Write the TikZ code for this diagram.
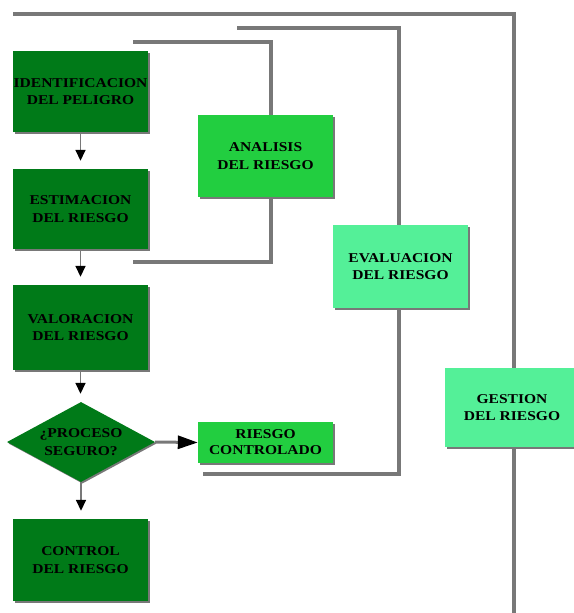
\documentclass[tikz,border=0pt]{standalone}
\usepackage{fontspec}
\setmainfont{Liberation Serif}[FakeStretch=1.15]
\usetikzlibrary{shapes.geometric,arrows.meta,shadows}
\definecolor{dkgreen}{RGB}{0,122,24}
\definecolor{mdgreen}{RGB}{34,206,64}
\definecolor{ltgreen}{RGB}{84,240,152}
\definecolor{linegray}{RGB}{120,120,120}
\tikzset{
  boxtext/.style={font=\fontsize{13.5}{17.5}\selectfont\bfseries, text=black, align=center, inner sep=0pt},
  shadowed/.style={drop shadow={shadow xshift=1.5pt, shadow yshift=-1.5pt, fill=linegray, opacity=1}},
  darkbox/.style={boxtext, rectangle, fill=dkgreen, shadowed, minimum width=135pt},
  midbox/.style={boxtext, rectangle, fill=mdgreen, shadowed, minimum width=135pt},
  lightbox/.style={boxtext, rectangle, fill=ltgreen, shadowed},
  bracket/.style={draw=linegray, line width=3.2pt},
  flowarrow/.style={draw=linegray, line width=1.6pt, shorten >=8pt,
    -{Triangle[length=11pt,width=10pt,color=black]}},
  sidearrow/.style={draw=linegray, line width=3pt,
    -{Triangle[length=20pt,width=13pt,color=black]}}
}
\begin{document}
\begin{tikzpicture}[x=1pt,y=-1pt]
\useasboundingbox[fill=white] (0,0) rectangle (573,613);

% outer brackets
\coordinate (g1) at (13,14);
\coordinate (g2) at (514,14);
\coordinate (g3) at (514,613);
\coordinate (e1) at (237,28);
\coordinate (e2) at (399,28);
\coordinate (e3) at (399,474);
\coordinate (e4) at (203,474);
\coordinate (a1) at (133,42);
\coordinate (a2) at (271,42);
\coordinate (a3) at (271,262);
\coordinate (a4) at (133,262);

% nodes
\node[darkbox, minimum height=81pt] (ident) at (80.5,91.5) {IDENTIFICACION\\DEL PELIGRO};
\node[darkbox, minimum height=80pt] (estim) at (80.5,209) {ESTIMACION\\DEL RIESGO};
\node[darkbox, minimum height=85pt] (valor) at (80.5,327.5) {VALORACION\\DEL RIESGO};
\node[boxtext, diamond, aspect=1.8, fill=dkgreen, shadowed, minimum width=148pt, minimum height=80pt] (seguro) at (81,442) {¿PROCESO\\SEGURO?};
\node[darkbox, minimum height=82pt] (control) at (80.5,560) {CONTROL\\DEL RIESGO};
\node[midbox, minimum height=82pt] (analisis) at (265.5,156) {ANALISIS\\DEL RIESGO};
\node[midbox, minimum height=41pt, font=\fontsize{13.5}{16}\selectfont\bfseries] (controlado) at (265.5,442.5) {RIESGO\\CONTROLADO};
\node[lightbox, minimum width=135pt, minimum height=83pt] (evalua) at (400.5,266.5) {EVALUACION\\DEL RIESGO};
\node[lightbox, minimum width=134pt, minimum height=79pt] (gestion) at (512,407.5) {GESTION\\DEL RIESGO};

% brackets
\draw[bracket] (g1) -- (g2) -- (g2 |- gestion.north);
\draw[bracket] (g2 |- gestion.south) -- (g3);
\draw[bracket] (e1) -- (e2) -- (e2 |- evalua.north);
\draw[bracket] (e2 |- evalua.south) -- (e3) -- (e4);
\draw[bracket] (a1) -- (a2) -- (a2 |- analisis.north);
\draw[bracket] (a3 |- analisis.south) -- (a3) -- (a4);

% flow arrows
\draw[flowarrow] (ident.south) -- (estim.north);
\draw[flowarrow] (estim.south) -- (valor.north);
\draw[flowarrow] (valor.south) -- (valor.south |- seguro.north);
\draw[flowarrow] (seguro.south) -- (seguro.south |- control.north);
\draw[sidearrow] (seguro.east) -- (controlado.west);
\end{tikzpicture}
\end{document}
